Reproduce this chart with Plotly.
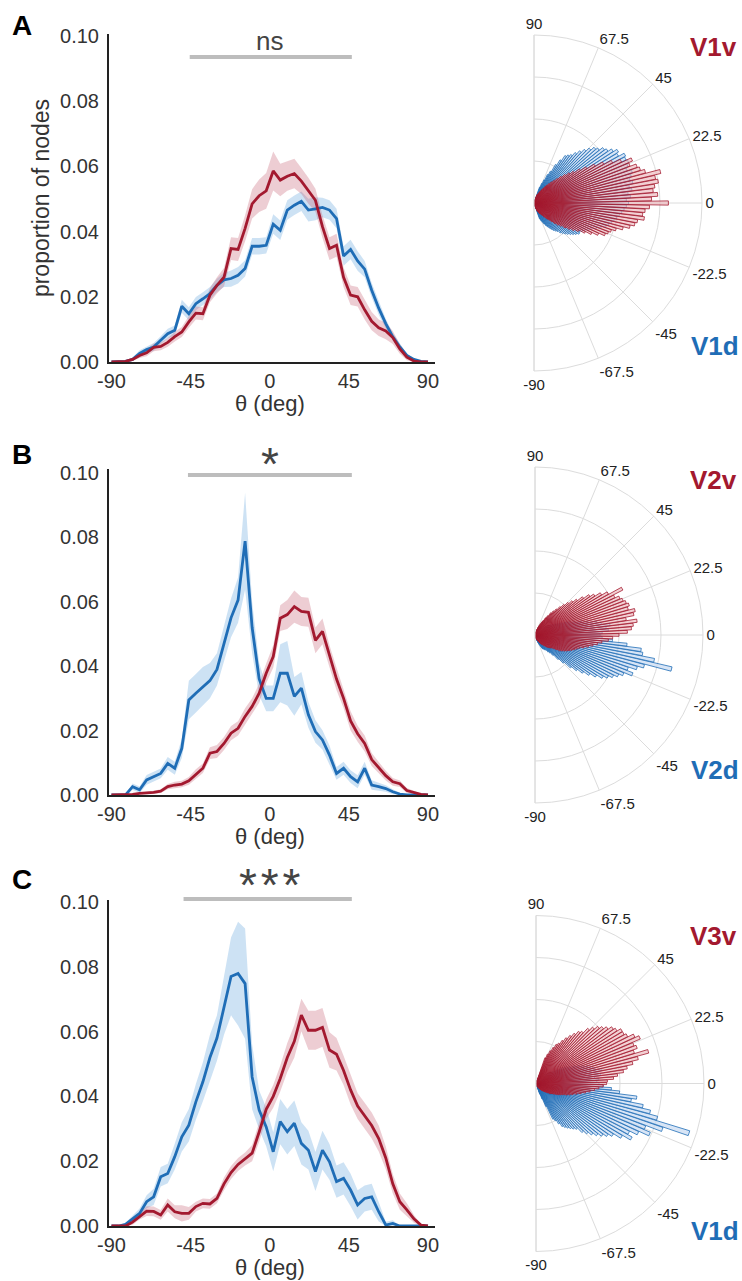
import plotly.graph_objects as go

# ---------------- data: line plots (theta bins, deg) ----------------
THETA = [-90, -86, -82, -78, -74, -70, -66, -62, -58, -54, -50, -46, -42, -38, -34, -30,
         -26, -22, -18, -14, -10, -6, -2, 2, 6, 10, 14, 18, 22, 26, 30, 34, 38, 42, 46, 50,
         54, 58, 62, 66, 70, 74, 78, 82, 86, 90]

A_RED = [0, 0, 0.0002, 0.0008, 0.002, 0.0028, 0.0045, 0.0048, 0.006, 0.0078, 0.0092, 0.0123,
         0.015, 0.0148, 0.0205, 0.0235, 0.026, 0.0348, 0.0345, 0.041, 0.0485, 0.051, 0.0525,
         0.0586, 0.0558, 0.057, 0.0578, 0.0555, 0.0525, 0.0496, 0.0415, 0.0348, 0.0358, 0.026,
         0.0205, 0.020, 0.016, 0.0125, 0.0105, 0.0095, 0.0075, 0.004, 0.0015, 0.0003, 0, 0]
A_RED_ERR = [0, 0, 0.0003, 0.0005, 0.0008, 0.001, 0.0012, 0.0012, 0.0013, 0.0015, 0.0015, 0.0018,
             0.002, 0.002, 0.0022, 0.0025, 0.0028, 0.0035, 0.0035, 0.004, 0.0045, 0.005, 0.0055,
             0.006, 0.005, 0.0045, 0.0045, 0.004, 0.004, 0.0035, 0.0035, 0.0035, 0.0035, 0.003,
             0.003, 0.003, 0.003, 0.0028, 0.0025, 0.0025, 0.002, 0.0015, 0.001, 0.0005, 0, 0]
A_BLUE = [0, 0, 0.0002, 0.0008, 0.0026, 0.0038, 0.0046, 0.0067, 0.0087, 0.0097, 0.0171, 0.0148,
          0.0179, 0.0194, 0.021, 0.0235, 0.0252, 0.0256, 0.0266, 0.0287, 0.0355, 0.0355, 0.0358,
          0.0423, 0.0404, 0.0466, 0.0481, 0.0493, 0.0466, 0.047, 0.0474, 0.0466, 0.044, 0.0325,
          0.0345, 0.031, 0.0285, 0.022, 0.0165, 0.0118, 0.0077, 0.0046, 0.002, 0.0008, 0.0002, 0]
A_BLUE_ERR = [0, 0, 0.0002, 0.0005, 0.001, 0.001, 0.0012, 0.0012, 0.0015, 0.0015, 0.002, 0.002,
              0.002, 0.002, 0.002, 0.002, 0.0022, 0.0025, 0.0025, 0.0025, 0.0025, 0.0025, 0.0025,
              0.003, 0.003, 0.003, 0.003, 0.003, 0.0035, 0.0035, 0.003, 0.003, 0.003, 0.003, 0.003,
              0.003, 0.0025, 0.0022, 0.002, 0.0015, 0.0012, 0.001, 0.0005, 0.0003, 0.0001, 0]

B_RED = [0, 0, 0, 0.0002, 0.0005, 0.0006, 0.0008, 0.0012, 0.0026, 0.0031, 0.0034, 0.0044, 0.0065,
         0.0083, 0.013, 0.0135, 0.016, 0.0192, 0.0207, 0.0244, 0.0275, 0.0316, 0.0378, 0.043,
         0.0549, 0.056, 0.0585, 0.057, 0.0567, 0.048, 0.0508, 0.043, 0.036, 0.030, 0.023, 0.019,
         0.016, 0.011, 0.0085, 0.006, 0.0041, 0.0035, 0.0014, 0.0007, 0.0002, 0]
B_RED_ERR = [0, 0, 0, 0.0002, 0.0003, 0.0004, 0.0005, 0.0006, 0.0008, 0.001, 0.001, 0.0012, 0.0015,
             0.0015, 0.0018, 0.002, 0.002, 0.0022, 0.0022, 0.0025, 0.0025, 0.003, 0.003, 0.0035,
             0.004, 0.0045, 0.005, 0.0045, 0.0045, 0.004, 0.004, 0.0035, 0.0035, 0.003, 0.003,
             0.0025, 0.0025, 0.002, 0.0018, 0.0015, 0.0012, 0.001, 0.0008, 0.0005, 0.0002, 0]
B_BLUE = [0, 0, 0, 0.0026, 0.0016, 0.0047, 0.0057, 0.0067, 0.0098, 0.0083, 0.0145, 0.0295, 0.0316,
          0.0337, 0.0355, 0.039, 0.047, 0.055, 0.0605, 0.0788, 0.052, 0.036, 0.030, 0.030, 0.0378,
          0.0378, 0.0306, 0.0332, 0.0249, 0.0197, 0.0171, 0.0124, 0.0067, 0.0083, 0.0057, 0.0041,
          0.0083, 0.0031, 0.0026, 0.002, 0.001, 0.0003, 0, 0, 0, 0]
B_BLUE_ERR = [0, 0, 0, 0.001, 0.001, 0.0015, 0.0015, 0.0015, 0.002, 0.002, 0.003, 0.006, 0.006,
              0.006, 0.0055, 0.005, 0.0055, 0.006, 0.007, 0.015, 0.008, 0.005, 0.004, 0.004, 0.009,
              0.01, 0.006, 0.005, 0.004, 0.0035, 0.003, 0.003, 0.002, 0.002, 0.002, 0.002, 0.002,
              0.0015, 0.0012, 0.001, 0.0008, 0.0003, 0, 0, 0, 0]

C_RED = [0, 0, 0, 0.0012, 0.003, 0.0046, 0.0045, 0.0034, 0.0065, 0.0044, 0.0039, 0.0039, 0.006,
         0.007, 0.0068, 0.0085, 0.013, 0.0165, 0.019, 0.0207, 0.0225, 0.029, 0.036, 0.040, 0.0455,
         0.052, 0.057, 0.0651, 0.0604, 0.0604, 0.0613, 0.0543, 0.053, 0.048, 0.042, 0.037, 0.034,
         0.031, 0.027, 0.021, 0.013, 0.0075, 0.005, 0.0022, 0.0003, 0]
C_RED_ERR = [0, 0, 0, 0.0008, 0.001, 0.0015, 0.0015, 0.0015, 0.002, 0.002, 0.0025, 0.002, 0.0015,
             0.0015, 0.0015, 0.0015, 0.002, 0.002, 0.002, 0.002, 0.0025, 0.003, 0.003, 0.0035,
             0.004, 0.0045, 0.005, 0.005, 0.006, 0.006, 0.006, 0.0055, 0.005, 0.0045, 0.0045,
             0.004, 0.004, 0.004, 0.004, 0.0035, 0.003, 0.0025, 0.002, 0.0012, 0.0003, 0]
C_BLUE = [0, 0, 0.0005, 0.0022, 0.0039, 0.0075, 0.009, 0.0152, 0.0162, 0.0214, 0.0275, 0.0311,
          0.0383, 0.0445, 0.052, 0.058, 0.068, 0.077, 0.0779, 0.0748, 0.046, 0.0358, 0.0306,
          0.0229, 0.0322, 0.0291, 0.0317, 0.0255, 0.0234, 0.0168, 0.0234, 0.0198, 0.0137, 0.0147,
          0.0111, 0.0065, 0.0085, 0.009, 0.0044, 0.0003, 0.0008, 0, 0, 0, 0, 0]
C_BLUE_ERR = [0, 0, 0.0005, 0.001, 0.0015, 0.002, 0.0025, 0.003, 0.003, 0.004, 0.0045, 0.005,
              0.0055, 0.006, 0.007, 0.007, 0.009, 0.012, 0.016, 0.017, 0.01, 0.006, 0.006, 0.006,
              0.007, 0.007, 0.007, 0.0065, 0.006, 0.006, 0.006, 0.0055, 0.005, 0.005, 0.005,
              0.0045, 0.004, 0.004, 0.003, 0.001, 0.001, 0, 0, 0, 0, 0]

X_TICKS = [-90, -45, 0, 45, 90]
X_TICKTEXT = ["-90", "-45", "0", "45", "90"]
Y_TICKS = [0, 0.02, 0.04, 0.06, 0.08, 0.10]
Y_TICKTEXT = ["0.00", "0.02", "0.04", "0.06", "0.08", "0.10"]
X_TITLE = "θ (deg)"
Y_TITLE = "proportion of nodes"
SIG_START = [-45.5, -46.5, -49]
SIG_END = [46.7, 46.7, 46.7]
SIG_TEXT = ["ns", "*", "*\u200a*\u200a*"]
PANEL_LETTERS = ["A", "B", "C"]
TOP_LABELS = ["V1v", "V2v", "V3v"]
BOTTOM_LABELS = ["V1d", "V2d", "V1d"]

# ---------------- data: polar bars ----------------
POLAR_ANGLES = [-70, -68, -66, -64, -62, -60, -58, -56, -54, -52, -50, -48, -46, -44, -42, -40,
                -38, -36, -34, -32, -30, -28, -26, -24, -22, -20, -18, -16, -14, -12, -10, -8,
                -6, -4, -2, 0, 2, 4, 6, 8, 10, 12, 14, 16, 18, 20, 22, 24, 26, 28, 30, 32, 34,
                36, 38, 40, 42, 44, 46, 48, 50, 52, 54, 56, 58, 60, 62, 64, 66, 68, 70]
ANG_TICKS = [-90, -67.5, -45, -22.5, 0, 22.5, 45, 67.5, 90]
ANG_TICKTEXT = ["-90", "-67.5", "-45", "-22.5", "0", "22.5", "45", "67.5", "90"]

PA_RED = [0.15, 0.2, 0.22, 0.25, 0.28, 0.3, 0.33, 0.36, 0.4, 0.45, 0.5, 0.55, 0.62, 0.7, 0.78,
          0.85, 0.95, 1.05, 1.15, 1.25, 1.4, 1.55, 1.7, 1.85, 1.9, 1.95, 2.05, 2.2, 2.35, 2.45,
          2.5, 2.65, 2.6, 2.65, 2.75, 3.2, 2.8, 2.95, 2.85, 2.9, 3.0, 2.95, 3.1, 2.75, 2.65, 2.6,
          2.45, 2.55, 2.3, 2.1, 1.9, 1.7, 1.5, 1.35, 1.2, 1.1, 1.0, 0.9, 0.8, 0.72, 0.65, 0.58,
          0.52, 0.46, 0.4, 0.36, 0.32, 0.28, 0.25, 0.22, 0.2]
PA_BLUE = [0.4, 0.45, 0.5, 0.55, 0.6, 0.65, 0.7, 0.75, 0.8, 0.84, 0.88, 0.95, 1.0, 1.05, 1.1,
           1.15, 1.2, 1.25, 1.3, 1.28, 1.33, 1.38, 1.45, 1.5, 1.6, 1.7, 1.8, 1.85, 1.9, 1.95, 2.0,
           2.05, 2.1, 2.15, 2.2, 2.25, 2.2, 2.3, 2.25, 2.35, 2.3, 2.4, 2.35, 2.4, 2.45, 2.35, 2.4,
           2.45, 2.42, 2.45, 2.3, 2.35, 2.25, 2.15, 2.1, 2.0, 1.95, 1.85, 1.75, 1.65, 1.55, 1.45,
           1.4, 1.35, 1.2, 1.05, 0.85, 0.75, 0.6, 0.5, 0.4]
PB_RED = [0.1, 0.12, 0.14, 0.16, 0.18, 0.2, 0.22, 0.25, 0.28, 0.3, 0.33, 0.36, 0.4, 0.42, 0.45,
          0.48, 0.5, 0.55, 0.62, 0.7, 0.75, 0.8, 0.85, 0.9, 0.95, 1.0, 1.05, 1.1, 1.2, 1.3, 1.4,
          1.5, 1.6, 1.75, 1.85, 2.0, 2.2, 2.3, 2.35, 2.45, 2.2, 2.4, 2.45, 2.3, 2.35, 2.3, 2.25,
          2.2, 2.1, 2.35, 2.0, 1.85, 1.7, 1.6, 1.45, 1.3, 1.2, 1.1, 1.0, 0.9, 0.8, 0.72, 0.65,
          0.55, 0.48, 0.4, 0.35, 0.3, 0.25, 0.2, 0.15]
PB_BLUE = [0.15, 0.2, 0.25, 0.3, 0.35, 0.38, 0.4, 0.42, 0.45, 0.5, 0.55, 0.65, 0.8, 0.95, 1.15,
           1.3, 1.45, 1.6, 1.75, 1.9, 2.0, 2.1, 2.2, 2.3, 2.5, 2.35, 2.55, 2.7, 3.35, 2.9, 2.6,
           2.55, 2.2, 1.85, 1.6, 1.55, 1.6, 1.75, 1.7, 1.8, 1.6, 1.5, 1.3, 1.15, 1.0, 0.9, 0.8,
           0.7, 0.6, 0.55, 0.5, 0.45, 0.4, 0.35, 0.3, 0.28, 0.25, 0.22, 0.2, 0.18, 0.15, 0.14,
           0.12, 0.1, 0.1, 0.08, 0.07, 0.06, 0.05, 0.05, 0.04]
PC_RED = [0.06, 0.07, 0.08, 0.09, 0.1, 0.12, 0.14, 0.16, 0.18, 0.2, 0.22, 0.24, 0.26, 0.28, 0.3,
          0.33, 0.36, 0.4, 0.43, 0.46, 0.5, 0.55, 0.6, 0.65, 0.7, 0.78, 0.85, 0.92, 1.0, 1.1, 1.2,
          1.3, 1.4, 1.5, 1.6, 1.68, 1.7, 1.85, 1.95, 2.1, 2.2, 2.35, 2.5, 2.78, 2.45, 2.55, 2.5,
          2.7, 2.6, 2.45, 2.4, 2.4, 2.3, 2.25, 2.15, 2.07, 2.0, 1.9, 1.8, 1.65, 1.6, 1.5, 1.4,
          1.3, 1.2, 1.1, 1.05, 0.95, 0.85, 0.75, 0.65]
PC_BLUE = [0.27, 0.4, 0.6, 0.94, 1.0, 1.1, 1.2, 1.25, 1.3, 1.35, 1.4, 1.45, 1.6, 1.7, 1.8, 1.9,
           2.0, 2.1, 2.2, 2.4, 2.62, 2.5, 2.7, 2.96, 2.8, 3.2, 3.83, 3.0, 2.8, 2.6, 2.3, 2.42, 2.0,
           1.8, 1.6, 1.5, 1.45, 1.5, 1.4, 1.55, 1.5, 1.6, 1.45, 1.4, 1.3, 1.2, 1.1, 1.0, 0.9, 0.8,
           0.7, 0.6, 0.5, 0.45, 0.4, 0.35, 0.3, 0.28, 0.25, 0.22, 0.2, 0.18, 0.16, 0.14, 0.12,
           0.1, 0.09, 0.08, 0.07, 0.06, 0.05]

# ---------------- styling / layout ----------------
W, H = 742, 1281
FONT = "Liberation Sans, Arial, Helvetica, sans-serif"
RED = "#A3192F"
BLUE = "#1F6DB6"
RED_BAND = "rgba(196, 90, 110, 0.30)"
BLUE_BAND = "rgba(100, 165, 220, 0.32)"
RED_BAR = "rgba(236, 180, 186, 0.62)"
BLUE_BAR = "rgba(200, 218, 242, 0.7)"
GRID = "#dcdcdc"
AX = "#222222"
TXT = "#333333"


def px(x):
    return x / W


def py(y):
    return 1 - y / H


# plot-area pixel boxes (left, right, top, bottom) of each line plot
CART = [(109, 435, 34, 362), (109, 435, 469, 795), (109, 435, 900, 1226)]
YMAX = [0.1006, 0.1012, 0.1006]
XTITLE_Y = [403, 837, 1267]
# polar boxes (left, right, top, bottom)
POLB = [(534, 702, 35, 371), (535, 703, 467, 803), (536, 704, 915, 1252)]
SIG_Y = [0.930, 0.9816, 1.003]
SIG_TXT_Y = [0.980, 1.014, 1.0445]
SIG_SIZE = [26, 46, 46]
LETTER_Y = [25, 455, 879]
TOP_Y = [47, 480, 936]
BOT_Y = [346, 770, 1231]

series = [
    (A_RED, A_RED_ERR, A_BLUE, A_BLUE_ERR, PA_RED, PA_BLUE),
    (B_RED, B_RED_ERR, B_BLUE, B_BLUE_ERR, PB_RED, PB_BLUE),
    (C_RED, C_RED_ERR, C_BLUE, C_BLUE_ERR, PC_RED, PC_BLUE),
]

fig = go.Figure()
layout = dict(
    template="none",
    width=W, height=H, margin=dict(l=0, r=0, t=0, b=0, pad=0, autoexpand=False),
    paper_bgcolor="white", plot_bgcolor="white", showlegend=False,
    font=dict(family=FONT, color=TXT),
)
annotations = []
shapes = []

for i, (red, rerr, blue, berr, pred, pblue) in enumerate(series):
    sfx = "" if i == 0 else str(i + 1)
    xa, ya = "x" + sfx, "y" + sfx
    l, r, t, b = CART[i]

    for vals, errs, band in ((blue, berr, BLUE_BAND), (red, rerr, RED_BAND)):
        upper = [v + e for v, e in zip(vals, errs)]
        lower = [max(v - e, 0) for v, e in zip(vals, errs)]
        fig.add_trace(go.Scatter(x=THETA, y=upper, mode="lines", line=dict(width=0),
                                 xaxis=xa, yaxis=ya, hoverinfo="skip"))
        fig.add_trace(go.Scatter(x=THETA, y=lower, mode="lines", line=dict(width=0),
                                 fill="tonexty", fillcolor=band, xaxis=xa, yaxis=ya,
                                 hoverinfo="skip"))
    fig.add_trace(go.Scatter(x=THETA, y=blue, mode="lines", line=dict(color=BLUE, width=2.8),
                             xaxis=xa, yaxis=ya))
    fig.add_trace(go.Scatter(x=THETA, y=red, mode="lines", line=dict(color=RED, width=2.8),
                             xaxis=xa, yaxis=ya))

    layout["xaxis" + sfx] = dict(
        domain=[px(l), px(r)], anchor=ya, range=[-91.4, 94], automargin=False,
        tickvals=X_TICKS, ticktext=X_TICKTEXT, showgrid=False, zeroline=False,
        showline=True, linecolor=AX, linewidth=2, ticks="",
        tickfont=dict(size=20, color=TXT, family=FONT),
    )
    layout["yaxis" + sfx] = dict(
        domain=[py(b), py(t)], anchor=xa, range=[0, YMAX[i]], automargin=False,
        tickvals=Y_TICKS, ticktext=Y_TICKTEXT, showgrid=False, zeroline=False,
        showline=True, linecolor=AX, linewidth=2,
        ticks="outside", ticklen=4, tickcolor="rgba(0,0,0,0)",
        tickfont=dict(size=20, color=TXT, family=FONT),
    )
    if i == 0:
        layout["yaxis"]["title"] = dict(text=Y_TITLE,
                                        font=dict(size=23, color=TXT, family=FONT), standoff=4)

    # x-axis title (placed tight under the tick labels, as in the reference)
    annotations.append(dict(text=X_TITLE, xref=xa, yref="paper", x=0, y=py(XTITLE_Y[i]),
                            showarrow=False, xanchor="center", yanchor="middle",
                            font=dict(size=22, color=TXT, family=FONT)))

    # significance bar
    shapes.append(dict(type="line", xref=xa, yref=ya + " domain",
                       x0=SIG_START[i], x1=SIG_END[i], y0=SIG_Y[i], y1=SIG_Y[i],
                       line=dict(color="#BDBDBD", width=4)))
    annotations.append(dict(text=SIG_TEXT[i], xref=xa, yref=ya + " domain", x=0,
                            y=SIG_TXT_Y[i], showarrow=False, xanchor="center", yanchor="middle",
                            font=dict(size=SIG_SIZE[i], color="#444444", family=FONT)))
    annotations.append(dict(text="<b>%s</b>" % PANEL_LETTERS[i], xref="paper", yref="paper",
                            x=px(22), y=py(LETTER_Y[i]), showarrow=False, xanchor="center",
                            yanchor="middle", font=dict(size=28, color="black", family=FONT)))

    # polar
    pname = "polar" + sfx
    pl, pr, pt, pb = POLB[i]
    fig.add_trace(go.Barpolar(r=pblue, theta=POLAR_ANGLES, width=1.8, subplot=pname,
                              marker=dict(color=BLUE_BAR, line=dict(color=BLUE, width=0.8))))
    fig.add_trace(go.Barpolar(r=pred, theta=POLAR_ANGLES, width=1.8, subplot=pname,
                              marker=dict(color=RED_BAR, line=dict(color=RED, width=0.8))))
    layout[pname] = dict(
        domain=dict(x=[px(pl), px(pr)], y=[py(pb), py(pt)]),
        sector=[-90, 90], bgcolor="white", barmode="overlay",
        radialaxis=dict(range=[0, 4], tickvals=[1, 2, 3, 4], showticklabels=False, ticks="",
                        showline=False, gridcolor=GRID, gridwidth=1),
        angularaxis=dict(tickvals=ANG_TICKS, ticktext=ANG_TICKTEXT, rotation=0,
                         direction="counterclockwise", showline=True, linecolor=GRID,
                         linewidth=1, gridcolor=GRID, gridwidth=1, ticks="",
                         tickfont=dict(size=15, color="#222222", family=FONT)),
    )
    annotations.append(dict(text="<b>%s</b>" % TOP_LABELS[i], xref="paper", yref="paper",
                            x=px(688), y=py(TOP_Y[i]), showarrow=False, xanchor="left",
                            yanchor="middle", font=dict(size=26, color=RED, family=FONT)))
    annotations.append(dict(text="<b>%s</b>" % BOTTOM_LABELS[i], xref="paper", yref="paper",
                            x=px(689), y=py(BOT_Y[i]), showarrow=False, xanchor="left",
                            yanchor="middle", font=dict(size=26, color=BLUE, family=FONT)))

layout["annotations"] = annotations
layout["shapes"] = shapes
fig.update_layout(**layout)
fig.write_html("out.html")
